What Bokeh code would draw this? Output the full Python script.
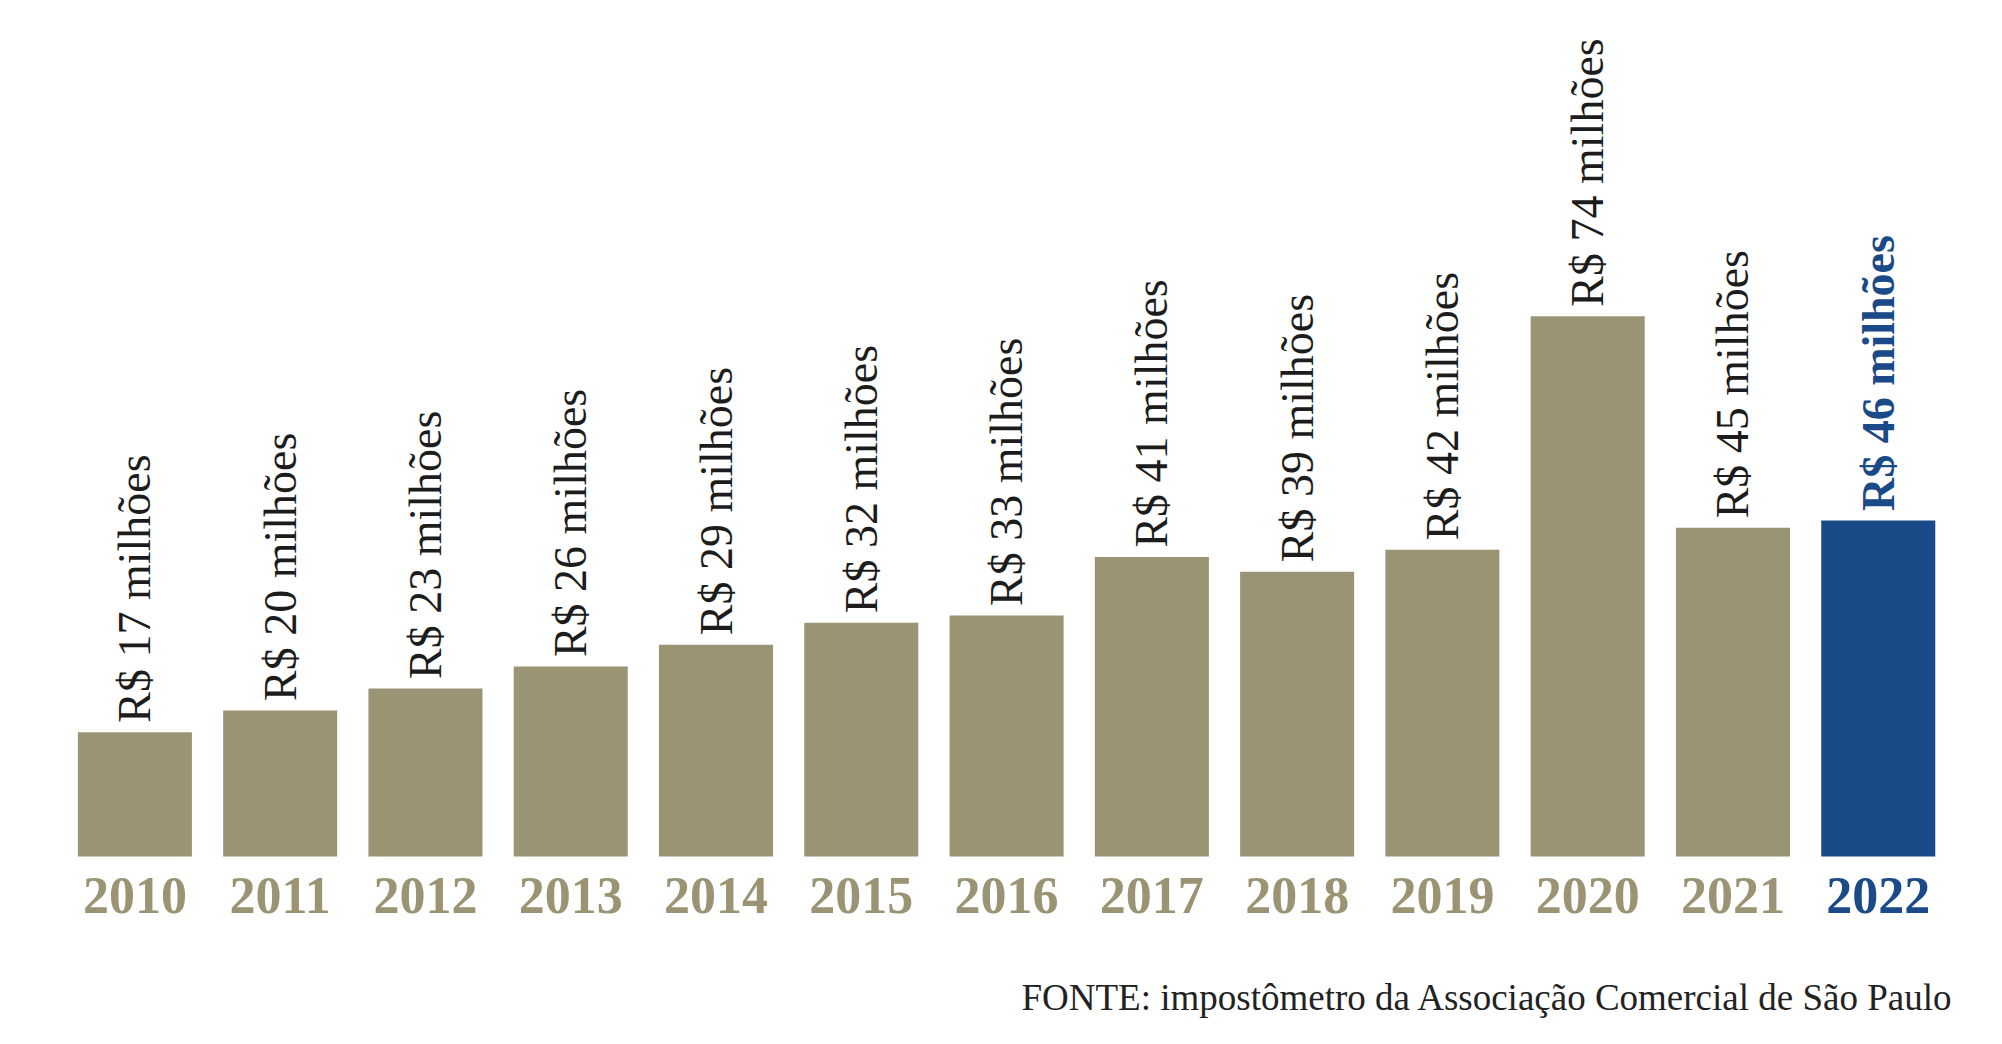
from bokeh.plotting import figure
from bokeh.models import ColumnDataSource, Range1d, Label
from bokeh.transform import dodge
from bokeh.core.properties import value
from bokeh.embed import file_html
from bokeh.resources import INLINE
import math

# ---- data ----
years = ["2010", "2011", "2012", "2013", "2014", "2015", "2016",
         "2017", "2018", "2019", "2020", "2021", "2022"]
values = [17, 20, 23, 26, 29, 32, 33, 41, 39, 42, 74, 45, 46]
value_labels = ["R$ %d milhões" % v for v in values]
highlight_year = "2022"
source_note = "FONTE: impostômetro da Associação Comercial de São Paulo"

# ---- styles ----
TAN = "#9B9474"
BLUE = "#1A4A87"
TEXT = "#1c1c1c"

bar_colors = [BLUE if y == highlight_year else TAN for y in years]
label_colors = [BLUE if y == highlight_year else TEXT for y in years]
label_styles = ["bold" if y == highlight_year else "normal" for y in years]

src = ColumnDataSource(dict(
    x=list(range(len(years))),
    year=years,
    value=values,
    label=value_labels,
    bar_color=bar_colors,
    label_color=label_colors,
    label_style=label_styles,
    zero=[0] * len(years),
))

W, H = 1986, 1028
p = figure(width=W, height=H, output_backend="svg", toolbar_location=None,
           x_range=Range1d(-0.925, 12.745), y_range=Range1d(-23.57, 117.23),
           min_border=0, outline_line_color=None)
p.axis.visible = False
p.grid.visible = False
p.background_fill_color = "white"
p.border_fill_color = "white"

p.vbar(x="x", top="value", bottom=0, width=0.785, source=src,
       fill_color="bar_color", line_color=None)

# value labels, rotated
p.text(x="x", y=dodge("value", 1.3), text="label", source=src,
       angle=math.pi / 2, text_align="left", text_baseline="middle",
       text_font=value("Liberation Serif"), text_font_size="46px",
       text_color="label_color", text_font_style="label_style")

# year labels
p.text(x="x", y=dodge("zero", -5.35), text="year", source=src,
       text_align="center", text_baseline="alphabetic",
       text_font=value("Liberation Serif"), text_font_size="52px",
       text_font_style="bold", text_color="bar_color")

note = Label(x=1953, y=31, x_units="screen", y_units="screen",
             text=source_note, text_align="right", text_baseline="alphabetic",
             text_font="Liberation Serif", text_font_size="37px",
             text_color="#222222")
p.add_layout(note)

open("out.html", "w").write(file_html(p, INLINE))
